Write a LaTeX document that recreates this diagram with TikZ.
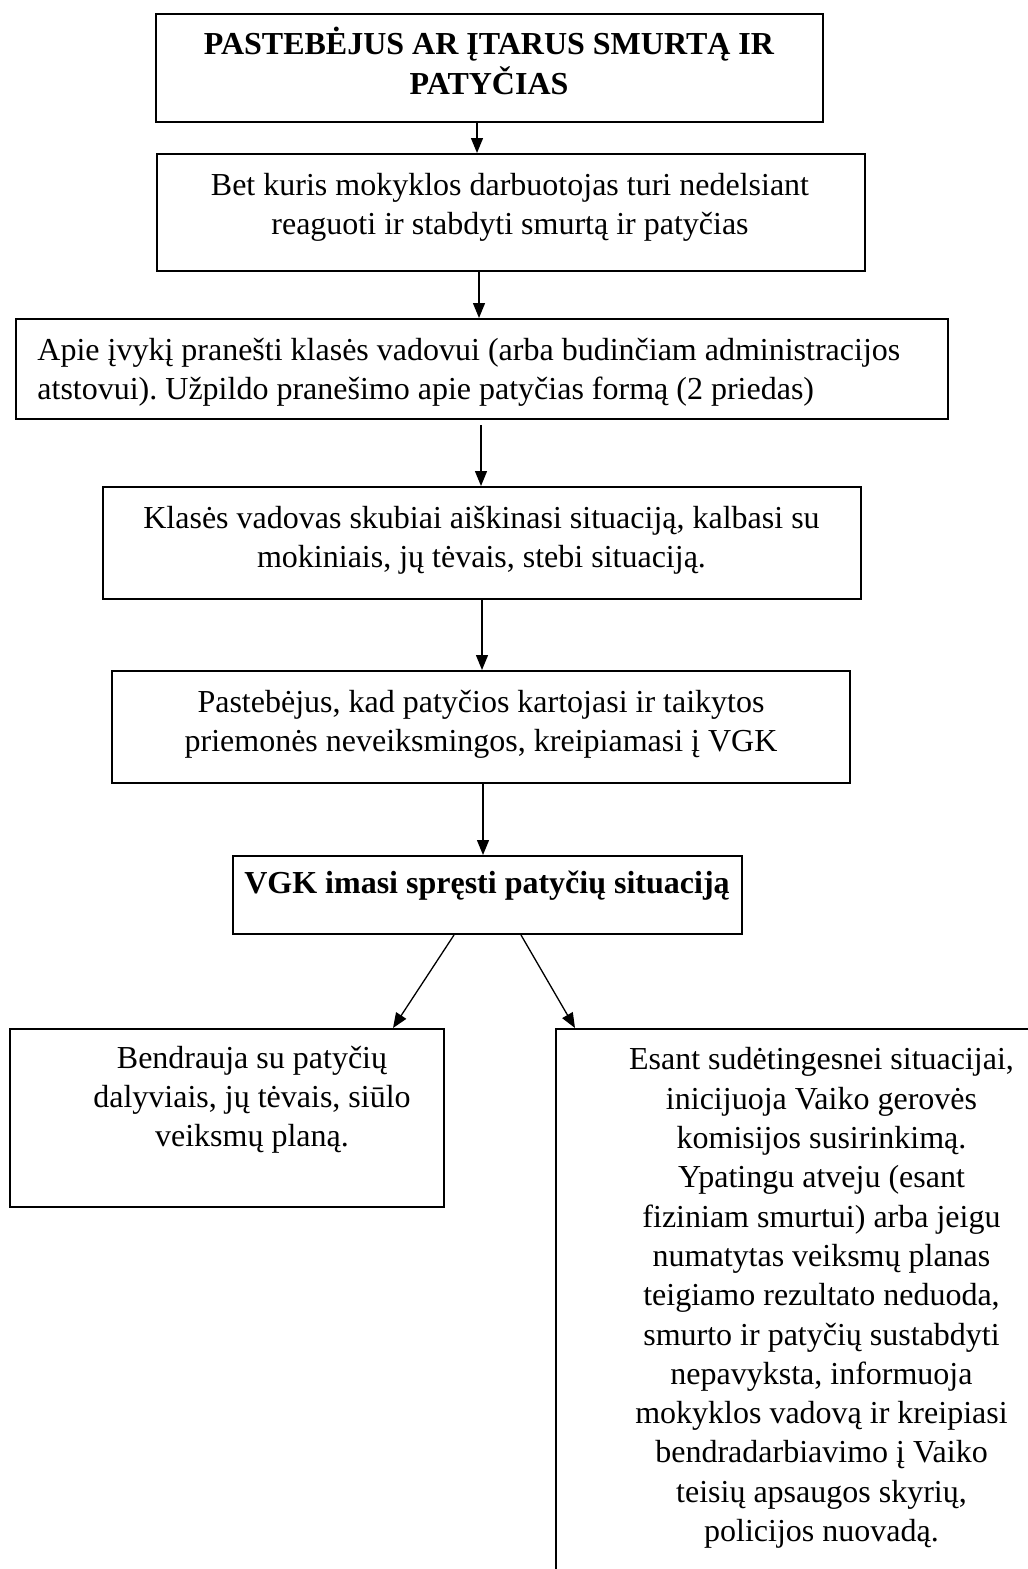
\documentclass[tikz,border=0pt]{standalone}
\usepackage{fontspec}
\setmainfont{Liberation Serif}
\usepackage{tikz}
\usetikzlibrary{arrows.meta}
\newcommand{\stepfont}{\fontsize{16pt}{19.66pt}\selectfont\frenchspacing}

\begin{document}
\begin{tikzpicture}[x=0.5pt, y=-0.5pt,
		box/.style={draw, line width=1pt, inner sep=0pt},
		txt/.style={align=center, inner sep=0pt, font=\stepfont},
		bold/.style={txt, font=\stepfont\bfseries},
		arr/.style={line width=0.65pt, -{Triangle[width=6pt, length=7.5pt]}}]
	\useasboundingbox (0,0) rectangle (1028,1569);
	\node[box, minimum width=333.5pt, minimum height=54pt] (b1) at (489.5,68) {};
	\node[box, minimum width=354pt, minimum height=58.5pt] (b2) at (511,212.5) {};
	\node[box, minimum width=466pt, minimum height=50pt] (b3) at (482,369) {};
	\node[box, minimum width=379pt, minimum height=56pt] (b4) at (482,543) {};
	\node[box, minimum width=369pt, minimum height=56pt] (b5) at (481,727) {};
	\node[box, minimum width=254.5pt, minimum height=39pt] (b6) at (487.5,895) {};
	\node[box, minimum width=217pt, minimum height=89pt] (b7) at (227,1118) {};
	\node[box, minimum width=265.5pt, minimum height=295.5pt] (b8) at (821.5,1324.5) {};
	\node[bold] (t1) at (489,60.8) {PASTEBĖJUS AR ĮTARUS SMURTĄ IR\\PATYČIAS};
	\node[txt] (t2) at (510,207.2) {Bet kuris mokyklos darbuotojas turi nedelsiant\\reaguoti ir stabdyti smurtą ir patyčias};
	\node[txt, align=left, anchor=west] (t3) at (37,372.2) {Apie įvykį pranešti klasės vadovui (arba budinčiam administracijos\\atstovui). Užpildo pranešimo apie patyčias formą (2 priedas)};
	\node[txt] (t4) at (481.5,540.2) {Klasės vadovas skubiai aiškinasi situaciją, kalbasi su\\mokiniais, jų tėvais, stebi situaciją.};
	\node[txt] (t5) at (481,724.2) {Pastebėjus, kad patyčios kartojasi ir taikytos\\priemonės neveiksmingos, kreipiamasi į VGK};
	\node[bold] (t6) at (487,885.5) {VGK imasi spręsti patyčių situaciją};
	\node[txt] (t7) at (252,1099.9) {Bendrauja su patyčių\\dalyviais, jų tėvais, siūlo\\veiksmų planą.};
	\node[txt] (t8) at (821.5,1298) {Esant sudėtingesnei situacijai,\\inicijuoja Vaiko gerovės\\komisijos susirinkimą.\\Ypatingu atveju (esant\\fiziniam smurtui) arba jeigu\\numatytas veiksmų planas\\teigiamo rezultato neduoda,\\smurto ir patyčių sustabdyti\\nepavyksta, informuoja\\mokyklos vadovą ir kreipiasi\\bendradarbiavimo į Vaiko\\teisių apsaugos skyrių,\\policijos nuovadą.};
	\draw[arr] ([xshift=-6.25pt]b1.south) -- ([xshift=-6.25pt]b1.south |- b2.north);
	\draw[arr] ([xshift=-16pt]b2.south) -- ([xshift=-16pt]b2.south |- b3.north);
	\draw[arr, shorten <=2.5pt] ([xshift=-0.5pt]b3.south) -- ([xshift=-0.5pt]b3.south |- b4.north);
	\draw[arr] (b4.south) -- (b4.south |- b5.north);
	\draw[arr] ([xshift=1pt]b5.south) -- ([xshift=1pt]b5.south |- b6.north);
	\draw[arr] ([xshift=-16.75pt]b6.south) -- ([xshift=83pt]b7.north);
	\draw[arr] ([xshift=16.75pt]b6.south) -- ([xshift=10pt]b8.north west);
\end{tikzpicture}
\end{document}
